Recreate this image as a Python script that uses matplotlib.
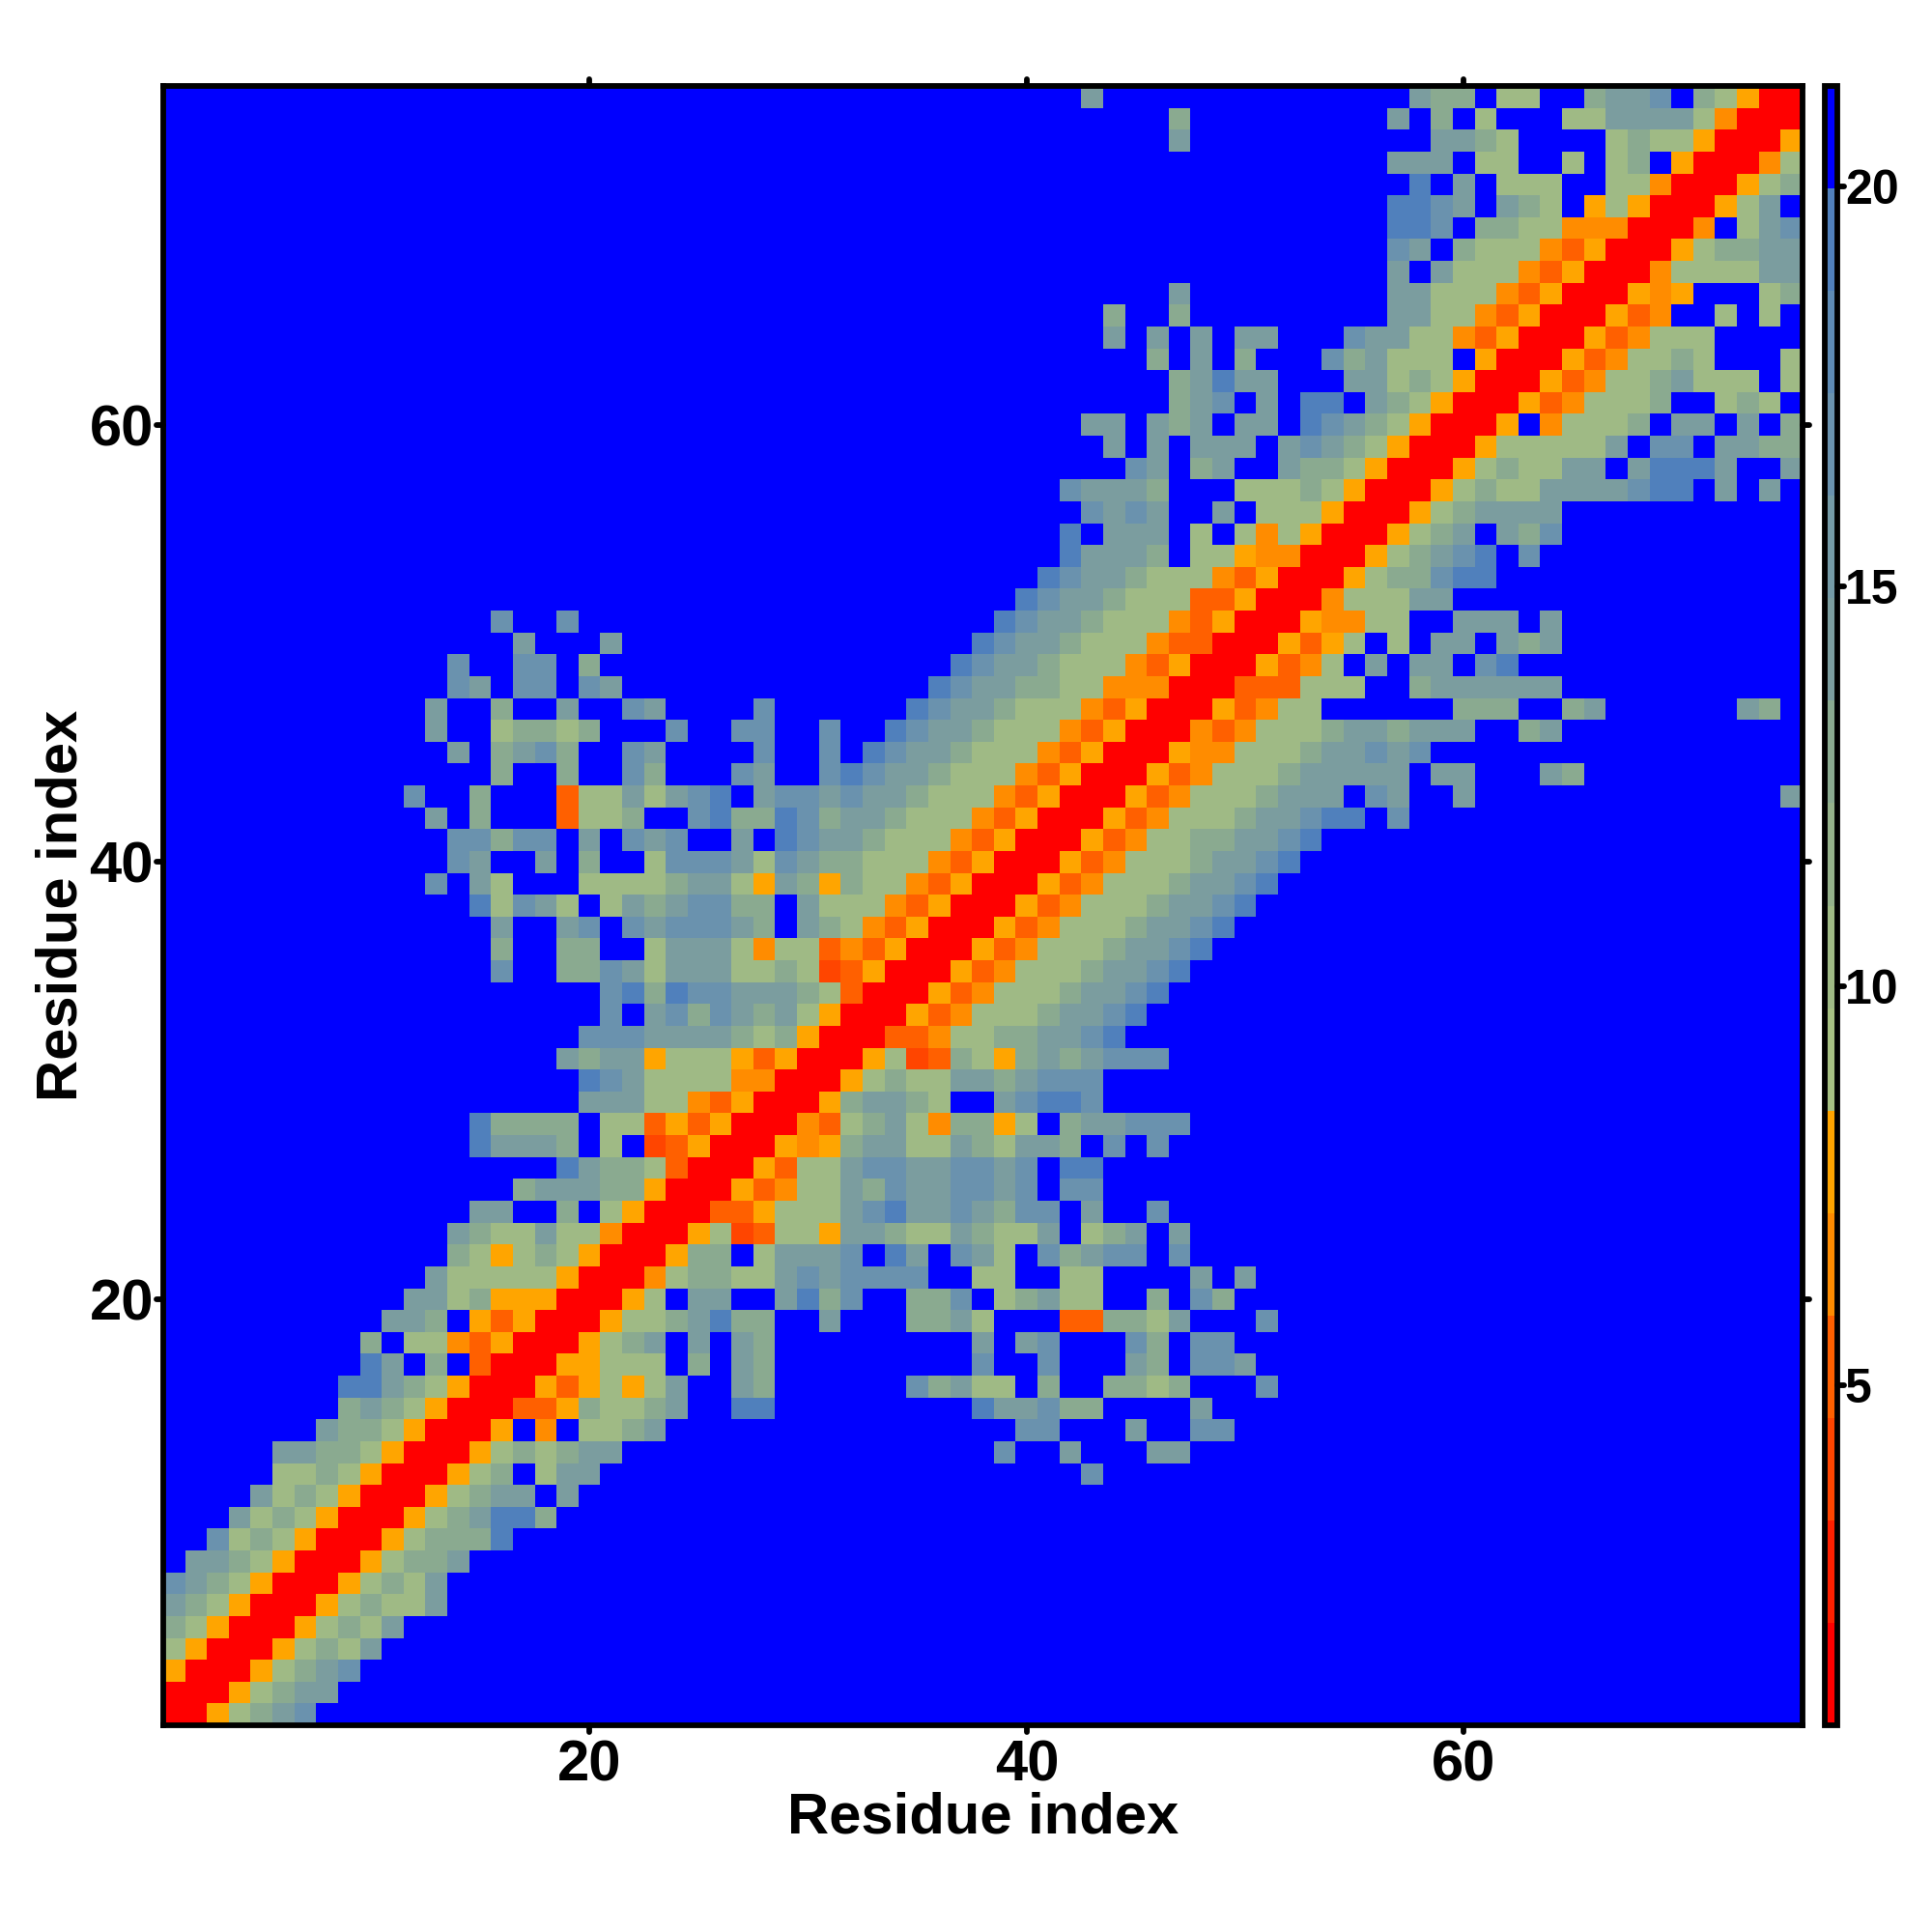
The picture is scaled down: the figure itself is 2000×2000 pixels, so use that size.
import numpy as np
import matplotlib
matplotlib.use("Agg")
import matplotlib.pyplot as plt
from matplotlib.colors import ListedColormap, Normalize
from matplotlib.markers import MarkerStyle, TICKDOWN, TICKUP, TICKLEFT, TICKRIGHT

plt.rcParams['font.family'] = ['Liberation Sans', 'DejaVu Sans']
plt.rcParams['font.weight'] = 'bold'

N_RESIDUES = 75
axis_title = "Residue index"
main_ticks = [20, 40, 60]
bar_ticks = [5, 10, 15, 20]

# colour scale: 16 bands between these limits
bar_low = 0.75
bar_high = 21.26
band_colors = ['#FF0000', '#FF2000', '#FF4500', '#FF6000', '#FF8C00', '#FFA500',
               '#A6C082', '#9FBA85', '#94B18A', '#8AAA90', '#7B9D9F', '#749AA6',
               '#6A92AE', '#5E8AB4', '#5080BC', '#0000FF']

# distance value read for each colour class of a cell
value_of_class = {'R': 1.4, 'F': 4.0, 'E': 5.2, 'D': 6.5, 'O': 7.8,
                  'a': 10.3, 'b': 12.9, 'c': 14.2, 'd': 16.8, 'e': 19.3, 'B': 20.6}

# symmetric map: each row lists runs (first residue, classes) right of the diagonal
row_01 = [(1, "RROabcd")]
row_02 = [(2, "RROabcc")]
row_03 = [(3, "RROabcd")]
row_04 = [(4, "RROabac")]
row_05 = [(5, "RROabac")]
row_06 = [(6, "RROabaac")]
row_07 = [(7, "RROabac")]
row_08 = [(8, "RROabbc")]
row_09 = [(9, "RROabbbe")]
row_10 = [(10, "RROabceeb")]
row_11 = [(11, "RROabccBc")]
row_12 = [(12, "RROabBacc"), (43, "d")]
row_13 = [(13, "RROababcc"), (39, "d"), (42, "c"), (46, "cc")]
row_14 = [(14, "RROBDBaabc"), (40, "dd"), (45, "c"), (48, "dd")]
row_15 = [(15, "RREEObaabc"), (27, "ee"), (38, "eccdbb"), (48, "c")]
row_16 = [(16, "RROEOaOac"), (27, "cb"), (35, "dbcaa"), (41, "b"), (44, "bbab"), (51, "d")]
row_17 = [(17, "RROOaaaBb"), (27, "cb"), (38, "d"), (41, "d"), (45, "cb"), (48, "ddc")]
row_18 = [(18, "RROabcBc"), (27, "cb"), (38, "c"), (40, "cd"), (45, "db"), (48, "dd")]
row_19 = [(19, "RROaabcebb"), (31, "c"), (35, "bbca"), (42, "EEbbac"), (51, "d")]
row_20 = [(20, "RROaBcc"), (29, "cebd"), (35, "bbdBabcaa"), (46, "b"), (48, "db")]
row_21 = [(21, "RRDabbaacdcdddd"), (38, "aa"), (42, "aa"), (48, "c"), (50, "c")]
row_22 = [(22, "RRObbBacccdBec"), (37, "dcaBdbcddBd")]
row_23 = [(23, "RROaFEaaOccbaacbaacBabcBc")]
row_24 = [(24, "RREEOaaacdeccdcbddBcBBd")]
row_25 = [(25, "RROEDaacbdccddcdBdd")]
row_26 = [(26, "RROEaacddccddcdBee")]
row_27 = [(27, "RRODObccaacbaccbBdBd")]
row_28 = [(28, "RRDEabcaDbbOaBbccddd")]
row_29 = [(29, "RRObccbaBBcdeed")]
row_30 = [(30, "RROabaaccbcddd")]
row_31 = [(31, "RROaFEbaObcbcddd")]
row_32 = [(32, "RREEDaabbccde")]
row_33 = [(33, "RROEDaaabccde")]
row_34 = [(34, "RROEDaaabccde")]
row_35 = [(35, "RROEDaaabccde")]
row_36 = [(36, "RROEDaaabccde")]
row_37 = [(37, "RROEDaaabccde")]
row_38 = [(38, "RROEDaaabccde")]
row_39 = [(39, "RROEDaaabccde")]
row_40 = [(40, "RROEDaaabccde")]
row_41 = [(41, "RROEDaabbccde")]
row_42 = [(42, "RROEDaaabccdeeBd")]
row_43 = [(43, "RROEDaaabcccBdcBBc"), (75, "c")]
row_44 = [(44, "RROEDaaabcccccBcc"), (64, "cb")]
row_45 = [(45, "RRODDaaabccdcd")]
row_46 = [(46, "RRDEDaaabccbccc"), (63, "bc")]
row_47 = [(47, "RROEDaa"), (60, "bbb"), (65, "bc"), (73, "cb")]
row_48 = [(48, "RREEEaaa"), (58, "bcccccc")]
row_49 = [(49, "RROEDaBcBccBde")]
row_50 = [(50, "RROEOaBaBccBcbc")]
row_51 = [(51, "RRODDaaBBcccBc")]
row_52 = [(52, "RRDaaacc")]
row_53 = [(53, "RROabbdee")]
row_54 = [(54, "RROabcdeBd")]
row_55 = [(55, "RROabcBcbd")]
row_56 = [(56, "RROabcccc")]
row_57 = [(57, "RROabaaccccdeeBcBc")]
row_58 = [(58, "RROabaaccBceeecBBc")]
row_59 = [(59, "RROaaaaacBddBccbb")]
row_60 = [(60, "RROBDaaabBccBcBb")]
row_61 = [(61, "RROEDaaabBBabaB")]
row_62 = [(62, "RROEDaabcaaaBa")]
row_63 = [(63, "RROEDaabaBBBa")]
row_64 = [(64, "RROEDaaaBBBB")]
row_65 = [(65, "RROEDBBaBaB")]
row_66 = [(66, "RRODOBBBab")]
row_67 = [(67, "RRDaaaacc")]
row_68 = [(68, "RROabbcc")]
row_69 = [(69, "RRDBacd")]
row_70 = [(70, "RROacB")]
row_71 = [(71, "RROab")]
row_72 = [(72, "RRDa")]
row_73 = [(73, "RRO")]
row_74 = [(74, "RR")]
row_75 = [(75, "R")]

matrix = np.full((N_RESIDUES, N_RESIDUES), value_of_class['B'])
for i in range(1, N_RESIDUES + 1):
    for start, classes in globals()[f"row_{i:02d}"]:
        for offset, c in enumerate(classes):
            j = start + offset
            matrix[i - 1, j - 1] = value_of_class[c]
            matrix[j - 1, i - 1] = value_of_class[c]

W = 2000.0
LINE = 4.2
fig = plt.figure(figsize=(20, 20), dpi=100, facecolor='white')
ax = fig.add_axes([169.3 / W, (W - 1786) / W, 1696.7 / W, 1697 / W])
cmap = ListedColormap(band_colors)
norm = Normalize(vmin=bar_low, vmax=bar_high)
im = ax.imshow(matrix, origin='lower', cmap=cmap, norm=norm, interpolation='nearest',
               extent=(0.5, N_RESIDUES + 0.5, 0.5, N_RESIDUES + 0.5), aspect='auto')
ax.set_xticks(main_ticks)
ax.set_yticks(main_ticks)
ax.tick_params(axis='both', which='major', length=5, width=LINE, labelsize=43,
               top=True, right=True, direction='out')
ax.tick_params(axis='x', pad=5.5)
ax.tick_params(axis='y', pad=2.5)
for t in ax.xaxis.get_major_ticks():
    t.tick1line.set_marker(MarkerStyle(TICKDOWN, capstyle='round'))
    t.tick2line.set_marker(MarkerStyle(TICKUP, capstyle='round'))
for t in ax.yaxis.get_major_ticks():
    t.tick1line.set_marker(MarkerStyle(TICKLEFT, capstyle='round'))
    t.tick2line.set_marker(MarkerStyle(TICKRIGHT, capstyle='round'))
for s in ax.spines.values():
    s.set_linewidth(LINE)
ax.set_xlabel(axis_title, fontsize=43, fontweight='bold', va='center')
ax.set_ylabel(axis_title, fontsize=43, fontweight='bold', va='center')
ax.xaxis.set_label_coords(0.5, -(1882 - 1786) / 1697)
ax.yaxis.set_label_coords(-(169.3 - 64) / 1696.7, 0.5)

cax = fig.add_axes([1889.2 / W, (W - 1786) / W, 12.3 / W, 1697 / W])
cbar = fig.colorbar(im, cax=cax, ticks=bar_ticks)
cbar.outline.set_linewidth(LINE)
cax.tick_params(axis='y', length=5, width=LINE, labelsize=36, pad=1, right=True, left=False)
for t in cax.yaxis.get_major_ticks():
    t.tick2line.set_marker(MarkerStyle(TICKRIGHT, capstyle='round'))
for lab in cax.get_yticklabels():
    lab.set_fontweight('bold')

fig.savefig('out.png', dpi=100, facecolor='white')
